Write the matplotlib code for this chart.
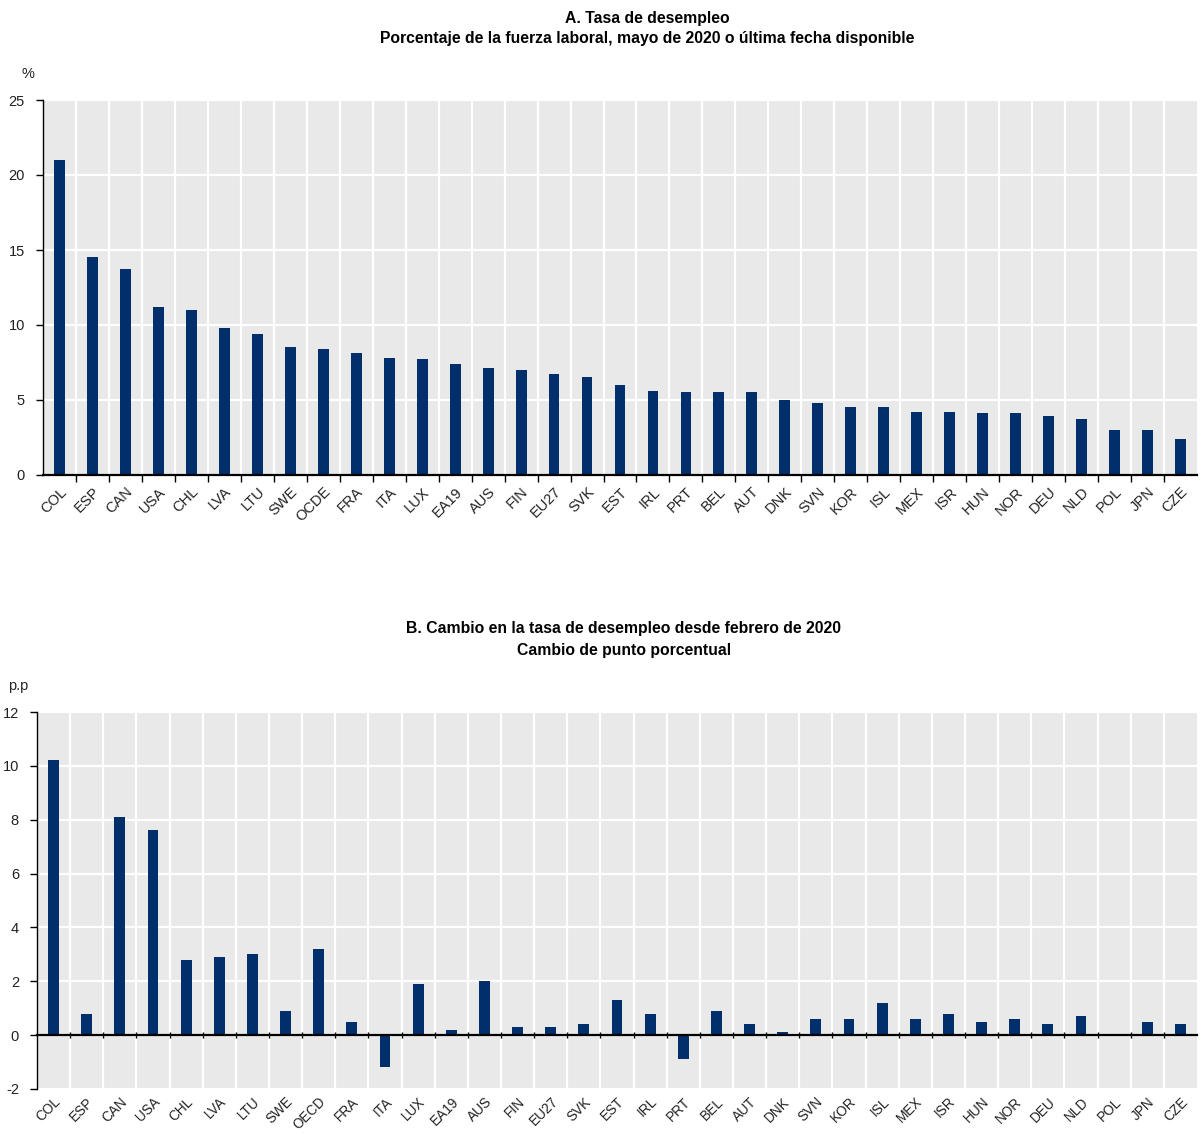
import matplotlib
matplotlib.use("Agg")
import matplotlib.pyplot as plt
import numpy as np
from matplotlib.transforms import blended_transform_factory, ScaledTranslation

plt.rcParams["font.family"] = ["Liberation Sans", "DejaVu Sans"]

# Panel A: unemployment rate, % of labour force
labels_a = ["COL", "ESP", "CAN", "USA", "CHL", "LVA", "LTU", "SWE", "OCDE", "FRA",
            "ITA", "LUX", "EA19", "AUS", "FIN", "EU27", "SVK", "EST", "IRL", "PRT",
            "BEL", "AUT", "DNK", "SVN", "KOR", "ISL", "MEX", "ISR", "HUN", "NOR",
            "DEU", "NLD", "POL", "JPN", "CZE"]
rate = [21.0, 14.5, 13.7, 11.2, 11.0, 9.8, 9.4, 8.5, 8.4, 8.1,
        7.8, 7.7, 7.4, 7.1, 7.0, 6.7, 6.5, 6.0, 5.6, 5.5,
        5.5, 5.5, 5.0, 4.8, 4.5, 4.5, 4.2, 4.2, 4.1, 4.1,
        3.9, 3.7, 3.0, 3.0, 2.4]

# Panel B: change since February 2020, percentage points
labels_b = ["COL", "ESP", "CAN", "USA", "CHL", "LVA", "LTU", "SWE", "OECD", "FRA",
            "ITA", "LUX", "EA19", "AUS", "FIN", "EU27", "SVK", "EST", "IRL", "PRT",
            "BEL", "AUT", "DNK", "SVN", "KOR", "ISL", "MEX", "ISR", "HUN", "NOR",
            "DEU", "NLD", "POL", "JPN", "CZE"]
change = [10.2, 0.8, 8.1, 7.6, 2.8, 2.9, 3.0, 0.9, 3.2, 0.5,
          -1.2, 1.9, 0.2, 2.0, 0.3, 0.3, 0.4, 1.3, 0.8, -0.9,
          0.9, 0.4, 0.1, 0.6, 0.6, 1.2, 0.6, 0.8, 0.5, 0.6,
          0.4, 0.7, 0.0, 0.5, 0.4]

BAR = "#002f6c"
BG = "#e9e9e9"
W, H = 1203, 1135

fig = plt.figure(figsize=(W / 100, H / 100), dpi=100)


def panel(rect, labels, values, ylim, yticks, unit, unit_xy, titles, title_x, title_y,
          tick_dir, label_size, label_gap):
    ax = fig.add_axes(rect)
    n = len(labels)
    x = np.arange(n)
    ax.set_facecolor(BG)
    ax.bar(x, values, width=0.33, color=BAR, zorder=3)
    ax.set_xlim(-0.5, n - 0.5)
    ax.set_ylim(*ylim)
    ax.set_yticks(yticks)
    ax.set_yticklabels([str(t) for t in yticks], fontsize=10.5, color="#222222")

    # category boundaries carry the vertical grid and the axis ticks
    bounds = np.arange(0.5, n - 1, 1.0)
    ax.set_xticks([])
    ax.set_xticks(bounds, minor=True)
    ax.tick_params(axis="x", which="minor", length=5, width=1, direction=tick_dir,
                   color="black", labelbottom=False)
    ax.grid(axis="x", which="minor", color="white", linewidth=1.6, zorder=0)
    ax.grid(axis="y", which="major", color="white", linewidth=1.6, zorder=0)
    ax.set_axisbelow(True)
    for s in ("top", "right"):
        ax.spines[s].set_visible(False)
    ax.spines["left"].set_color("black")
    ax.spines["left"].set_linewidth(1.0)
    ax.spines["bottom"].set_position(("data", 0))
    ax.spines["bottom"].set_color("black")
    ax.spines["bottom"].set_linewidth(1.6)
    ax.spines["bottom"].set_zorder(4)
    ax.tick_params(axis="y", length=5, width=1, direction="out", pad=8)

    # rotated category labels below the plotting area
    trans = blended_transform_factory(ax.transData, ax.transAxes)
    off = ScaledTranslation(0, -label_gap / 72, fig.dpi_scale_trans)
    for i, lab in enumerate(labels):
        ax.text(i, 0, lab, transform=trans + off, rotation=45, ha="right", va="top",
                rotation_mode="anchor", fontsize=label_size, color="#222222",
                clip_on=False)

    fig.text(unit_xy[0] / W, 1 - unit_xy[1] / H, unit, fontsize=10.5,
             ha="left", va="center", color="#222222")
    for t, yy in zip(titles, title_y):
        fig.text(title_x / W, 1 - yy / H, t, fontsize=11.3, fontweight="bold",
                 ha="center", va="center")
    return ax


panel([43 / W, 1 - 475 / H, (1197 - 43) / W, (475 - 100) / H],
      labels_a, rate, (0, 25), [0, 5, 10, 15, 20, 25], "%", (22, 74),
      ["A. Tasa de desempleo",
       "Porcentaje de la fuerza laboral, mayo de 2020 o última fecha disponible"],
      647, (18, 39), "out", 10.5, 7)

panel([37 / W, 1 - 1089 / H, (1197 - 37) / W, (1089 - 712) / H],
      labels_b, change, (-2, 12), [-2, 0, 2, 4, 6, 8, 10, 12], "p.p", (8, 686),
      ["B. Cambio en la tasa de desempleo desde febrero de 2020",
       "Cambio de punto porcentual"],
      624, (628, 650), "inout", 9.8, 4)

fig.savefig("out.png", dpi=100)
